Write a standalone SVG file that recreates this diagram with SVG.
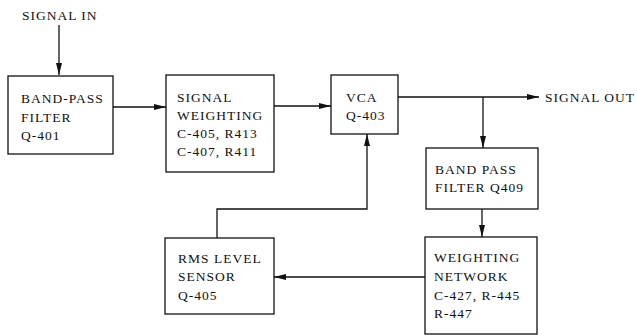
<svg xmlns="http://www.w3.org/2000/svg" width="637" height="335" viewBox="0 0 637 335">
<style>
.box{fill:#fff;stroke:#111;stroke-width:1.3}
.ln{fill:none;stroke:#111;stroke-width:1.3}
text{font-family:"Liberation Serif","Times New Roman",serif;font-size:13.5px;fill:#111;letter-spacing:1px}
</style>
<defs>
<marker id="ah" viewBox="0 0 12 6" refX="12" refY="3" markerWidth="12" markerHeight="6" markerUnits="userSpaceOnUse" orient="auto">
<path d="M0,0 L12,3 L0,6 Z" fill="#111"/>
</marker>
</defs>
<rect width="637" height="335" fill="#fff"/>
<g id="connectors">
<line class="ln" x1="59" y1="25" x2="59" y2="75" marker-end="url(#ah)"/>
<line class="ln" x1="113" y1="107" x2="166" y2="107" marker-end="url(#ah)"/>
<line class="ln" x1="274" y1="106" x2="331" y2="106" marker-end="url(#ah)"/>
<line class="ln" x1="398" y1="97" x2="539" y2="97" marker-end="url(#ah)"/>
<line class="ln" x1="483" y1="97" x2="483" y2="148" marker-end="url(#ah)"/>
<line class="ln" x1="482" y1="209" x2="482" y2="237" marker-end="url(#ah)"/>
<line class="ln" x1="425" y1="277" x2="274" y2="277" marker-end="url(#ah)"/>
<polyline class="ln" points="217,238 217,209 367,209 367,134" marker-end="url(#ah)"/>
</g>
<g id="signal-in"><text x="22" y="20">SIGNAL IN</text></g>
<g id="signal-out"><text x="545" y="102">SIGNAL OUT</text></g>
<g id="bandpass1">
<rect class="box" x="8" y="76" width="105" height="78"/>
<text x="21" y="103">BAND-PASS</text>
<text x="21" y="122">FILTER</text>
<text x="21" y="140">Q-401</text>
</g>
<g id="weighting1">
<rect class="box" x="166" y="75" width="108" height="97"/>
<text x="177" y="102">SIGNAL</text>
<text x="177" y="120">WEIGHTING</text>
<text x="177" y="138">C-405, R413</text>
<text x="177" y="156">C-407, R411</text>
</g>
<g id="vca">
<rect class="box" x="331" y="75" width="67" height="59"/>
<text x="346" y="102">VCA</text>
<text x="346" y="120">Q-403</text>
</g>
<g id="bandpass2">
<rect class="box" x="426" y="148" width="112" height="61"/>
<text x="435" y="174">BAND PASS</text>
<text x="435" y="192">FILTER Q409</text>
</g>
<g id="weighting2">
<rect class="box" x="425" y="237" width="112" height="97"/>
<text x="434" y="262">WEIGHTING</text>
<text x="434" y="281">NETWORK</text>
<text x="434" y="300">C-427, R-445</text>
<text x="434" y="318">R-447</text>
</g>
<g id="rms">
<rect class="box" x="165" y="238" width="109" height="76"/>
<text x="178" y="263">RMS LEVEL</text>
<text x="178" y="281">SENSOR</text>
<text x="178" y="300">Q-405</text>
</g>
</svg>
